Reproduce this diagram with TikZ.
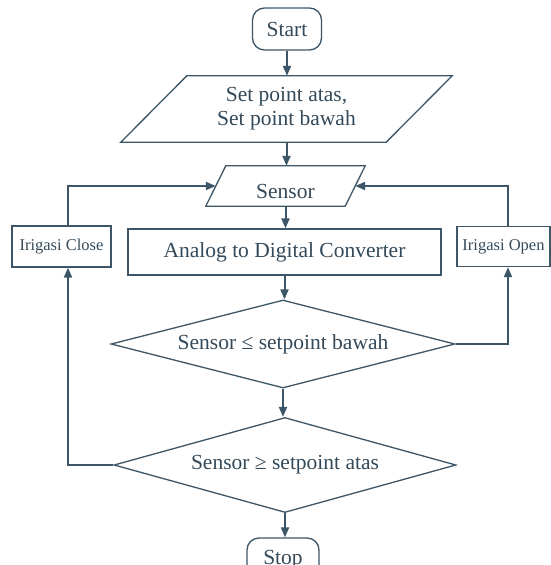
\documentclass[tikz,border=0pt]{standalone}
\usepackage{fontspec}
\setmainfont{Liberation Serif}
\usetikzlibrary{shapes.geometric,arrows.meta,calc}
\definecolor{ink}{RGB}{60,86,104}
\definecolor{txt}{RGB}{52,74,90}
\begin{document}
\begin{tikzpicture}[x=1pt,y=-1pt,
  base/.style={draw=ink, line width=1.3pt, text=txt, font=\fontsize{21.5}{24}\selectfont, inner sep=0pt},
  term/.style={base, rounded corners=12pt},
  proc/.style={base},
  small/.style={base, font=\fontsize{16.5}{19}\selectfont},
  io/.style={text=txt, font=\fontsize{21.5}{24}\selectfont, inner sep=0pt},
  ioline/.style={draw=ink, line width=1.3pt, line join=miter},
  dec/.style={base, diamond, shape aspect=3.9},
  flow/.style={draw=ink, line width=2pt, -{Triangle[length=10pt,width=8pt]}}
]
\fill[white] (0,0) rectangle (551,565);
\useasboundingbox (0,0) rectangle (551,565);
\clip (0,0) rectangle (551,565);

% nodes
\node[term, minimum width=69pt, minimum height=42pt] (start) at (287,29) {Start};
\node[io, minimum width=265pt, minimum height=66pt, align=center] (set) at (286.5,109) {Set point atas,\\Set point bawah};
\node[io, minimum width=139pt, minimum height=40pt, text height=24pt, text depth=0pt] (sensor) at (285.5,186) {Sensor};
\node[proc, minimum width=313pt, minimum height=46pt] (adc) at (284.5,252) {Analog to Digital Converter};
\node[small, minimum width=99pt, minimum height=41pt] (close) at (61.5,246.5) {Irigasi Close};
\node[small, minimum width=93pt, minimum height=40pt] (open) at (503.5,246.5) {Irigasi Open};
\node[dec, minimum width=344pt, minimum height=88pt] (d1) at (283,344) {Sensor ≤ setpoint bawah};
\node[dec, minimum width=342pt, minimum height=95pt] (d2) at (285,465) {Sensor ≥ setpoint atas};
\node[term, minimum width=72pt, minimum height=44pt] (stop) at (283,560) {Stop};

% parallelogram outlines
\draw[ioline] ([xshift=33pt]set.north west) -- ([xshift=33pt]set.north east) -- ([xshift=-33pt]set.south east) -- ([xshift=-33pt]set.south west) -- cycle;
\draw[ioline] ([xshift=10pt]sensor.north west) -- ([xshift=10pt]sensor.north east) -- ([xshift=-10pt]sensor.south east) -- ([xshift=-10pt]sensor.south west) -- cycle;

% helper points for the side loops
\path ([xshift=6.5pt]close.south) coordinate (closeS);
\path ([xshift=6.5pt]close.north) coordinate (closeN);
\path ([xshift=4.5pt]open.south) coordinate (openS);
\path ([xshift=4.5pt]open.north) coordinate (openN);

% main flow
\draw[flow] (start.south) -- (start.south |- set.north);
\draw[flow] (set.south) -- (set.south |- sensor.north);
\draw[flow] (sensor.south) -- (sensor.south |- adc.north);
\draw[flow] (adc.south) -- (adc.south |- d1.north);
\draw[flow] (d1.south) -- (d1.south |- d2.north);
\draw[flow] (d2.south) -- (d2.south |- stop.north);

% loops
\draw[flow] (d1.east) -| (openS);
\draw[flow] (openN) |- (sensor.east);
\draw[flow] (d2.west) -| (closeS);
\draw[flow] (closeN) |- (sensor.west);
\end{tikzpicture}
\end{document}
